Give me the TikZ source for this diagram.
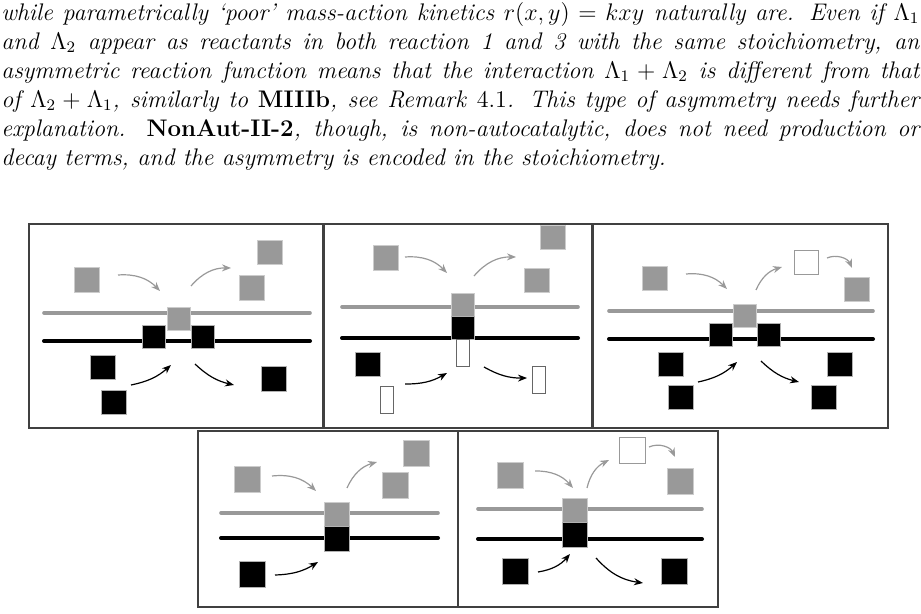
\documentclass[tikz,border=0pt]{standalone}
\usepackage{tikz}
\usetikzlibrary{arrows.meta}
\definecolor{memgray}{gray}{0.6}
\tikzset{
    panel/.style={draw=black!75, line width=0.7pt},
    textblock/.style={anchor=north west, inner sep=0pt, text width=459pt,
        align=justify, font=\fontsize{12}{14.5}\selectfont\itshape}
}
\tikzset{
    graysq/.style={draw=black!20, fill=memgray, line width=0.3pt,
        minimum size=12.3pt, inner sep=0pt},
    blacksq/.style={draw=black!30, fill=black, line width=0.3pt,
        minimum size=12.3pt, inner sep=0pt},
    whitesq/.style={draw=black!40, fill=white, line width=0.4pt,
        minimum size=12.3pt, inner sep=0pt},
    whitebar/.style={draw=black!60, fill=white, line width=0.4pt,
        minimum width=6.5pt, minimum height=13.5pt, inner sep=0pt},
    midsq/.style={minimum size=11.6pt}
}
\tikzset{
    grayline/.style={draw=memgray, line width=1.8pt, line cap=round},
    blackline/.style={draw=black, line width=2pt, line cap=round},
    grayflow/.style={draw=memgray, line width=0.6pt, -{Stealth[length=4.5pt,width=3.5pt]}},
    blackflow/.style={draw=black, line width=0.6pt, -{Stealth[length=4.5pt,width=3.5pt]}}
}
\newcommand{\drawSq}[3]{\node[#1] (#2) at #3 {}}
\newcommand{\drawFlow}[5]{%
    \coordinate (#2s) at #3;
    \coordinate (#2e) at #4;
    \draw[#1] (#2s) to[#5] (#2e)}

\begin{document}
\begin{tikzpicture}[x=0.5pt, y=-0.5pt]

    \useasboundingbox (0,0) rectangle (921,614);

    \node[textblock] (para) at (1,2) {%
    while parametrically `poor' mass-action kinetics $r(x,y)=kxy$ naturally are. Even if $\Lambda_1$\linebreak
    and $\Lambda_2$ appear as reactants in both reaction 1 and 3 with the same stoichiometry, an\linebreak
    asymmetric reaction function means that the interaction $\Lambda_1+\Lambda_2$ is different from that\linebreak
    of $\Lambda_2+\Lambda_1$, similarly to \textup{\textbf{MIIIb}}, see Remark \textup{4.1}. This type of asymmetry needs further\linebreak
    explanation. \textup{\textbf{NonAut-II-2}}, though, is non-autocatalytic, does not need production or\linebreak
    decay terms, and the asymmetry is encoded in the stoichiometry.};

    % panel 1
    \draw[panel] (29,224) rectangle (323,428);
    \draw[grayline] (44,313) -- (310,313);
    \draw[blackline] (44,341) -- (310,341);
    \drawSq{graysq}{p1a}{(86.5,280)};
    \drawSq{graysq}{p1b}{(269.5,252.5)};
    \drawSq{graysq}{p1c}{(251.5,288)};
    \drawSq{graysq,midsq}{p1m}{(178.5,319)};
    \drawSq{blacksq,midsq}{p1l}{(154,337)};
    \drawSq{blacksq,midsq}{p1r}{(202.5,337)};
    \drawSq{blacksq}{p1d}{(102.5,367.5)};
    \drawSq{blacksq}{p1e}{(113.5,402.5)};
    \drawSq{blacksq}{p1f}{(273.5,379)};
    \drawFlow{grayflow}{p1gi}{(118,275)}{(160,291)}{bend left=25};
    \drawFlow{grayflow}{p1go}{(191,286)}{(231,268)}{bend left=25};
    \drawFlow{blackflow}{p1bi}{(131,385)}{(171,365)}{bend right=15};
    \drawFlow{blackflow}{p1bo}{(195,364)}{(234,385)}{bend right=15};

    % panel 2
    \draw[panel] (324,224) rectangle (592,428);
    \draw[grayline] (342,307) -- (578,307);
    \draw[blackline] (342,338) -- (578,338);
    \drawSq{graysq}{p2a}{(386,258)};
    \drawSq{graysq}{p2b}{(553,237.5)};
    \drawSq{graysq}{p2c}{(537,280.5)};
    \drawSq{graysq,midsq}{p2m}{(462.5,304.5)};
    \drawSq{blacksq,midsq}{p2n}{(462.5,328)};
    \drawSq{whitebar}{p2w}{(462.5,352.5)};
    \drawSq{blacksq}{p2d}{(368,364.5)};
    \drawSq{whitebar}{p2x}{(386.5,399.5)};
    \drawSq{whitebar}{p2y}{(539,380)};
    \drawFlow{grayflow}{p2gi}{(405,257)}{(447,273)}{bend left=25};
    \drawFlow{grayflow}{p2go}{(474,276)}{(516,257)}{bend left=25};
    \drawFlow{blackflow}{p2bi}{(405,384)}{(447,373)}{bend right=15};
    \drawFlow{blackflow}{p2bo}{(484,367)}{(527,378)}{bend right=15};

    % panel 3
    \draw[panel] (593,224) rectangle (888,428);
    \draw[grayline] (609,311) -- (873,311);
    \draw[blackline] (609,339) -- (873,339);
    \drawSq{graysq}{p3a}{(654.5,278.5)};
    \drawSq{whitesq}{p3w}{(806.5,262.5)};
    \drawSq{graysq}{p3c}{(856.5,289.5)};
    \drawSq{graysq,midsq}{p3m}{(744.5,316)};
    \drawSq{blacksq,midsq}{p3l}{(720.5,335)};
    \drawSq{blacksq,midsq}{p3r}{(768.5,335)};
    \drawSq{blacksq}{p3d}{(670.5,364.5)};
    \drawSq{blacksq}{p3e}{(680.5,397.5)};
    \drawSq{blacksq}{p3f}{(840,364.5)};
    \drawSq{blacksq}{p3g}{(823.5,397.5)};
    \drawFlow{grayflow}{p3gi}{(686,274)}{(727,289)}{bend left=25};
    \drawFlow{grayflow}{p3go}{(756,290)}{(782,267)}{bend left=25};
    \drawFlow{grayflow}{p3gw}{(827,258)}{(852,268)}{bend left=45};
    \drawFlow{blackflow}{p3bi}{(698,382)}{(737,362)}{bend right=15};
    \drawFlow{blackflow}{p3bo}{(761,361)}{(799,382)}{bend right=15};

    \begin{scope}[graysq/.append style={minimum size=13pt},
                  blacksq/.append style={minimum size=13pt},
                  whitesq/.append style={minimum size=13pt},
                  midsq/.append style={minimum size=12.3pt}]
    % panel 4
    \draw[panel] (198,431) rectangle (458,607);
    \draw[grayline] (221,513) -- (438,513);
    \draw[blackline] (221,538) -- (438,538);
    \drawSq{graysq}{p4a}{(247.5,479.5)};
    \drawSq{graysq}{p4b}{(416,453.5)};
    \drawSq{graysq}{p4c}{(395,485.5)};
    \drawSq{graysq,midsq}{p4m}{(336.5,514.5)};
    \drawSq{blacksq,midsq}{p4n}{(336.5,538.5)};
    \drawSq{blacksq}{p4d}{(252.5,574.5)};
    \drawFlow{grayflow}{p4gi}{(272,476)}{(316,491)}{bend left=25};
    \drawFlow{grayflow}{p4go}{(347,488)}{(377,462)}{bend left=25};
    \drawFlow{blackflow}{p4bi}{(275,575)}{(318,562)}{bend right=15};

    % panel 5
    \draw[panel] (458,431) rectangle (718,607);
    \draw[grayline] (478,509) -- (702,509);
    \draw[blackline] (478,539) -- (702,539);
    \drawSq{graysq}{p5a}{(510,475)};
    \drawSq{whitesq}{p5w}{(632.5,450.5)};
    \drawSq{graysq}{p5c}{(680,481)};
    \drawSq{graysq,midsq}{p5m}{(574.5,510.5)};
    \drawSq{blacksq,midsq}{p5n}{(574.5,535)};
    \drawSq{blacksq}{p5d}{(515.5,571.5)};
    \drawSq{blacksq}{p5e}{(674,571.5)};
    \drawFlow{grayflow}{p5gi}{(535,471)}{(573,488)}{bend left=25};
    \drawFlow{grayflow}{p5go}{(587,488)}{(609,460)}{bend left=25};
    \drawFlow{grayflow}{p5gw}{(649,447)}{(675,457)}{bend left=45};
    \drawFlow{blackflow}{p5bi}{(538,572)}{(570,554)}{bend right=20};
    \drawFlow{blackflow}{p5bo}{(596,558)}{(643,583)}{bend right=20};
    \end{scope}

\end{tikzpicture}
\end{document}
